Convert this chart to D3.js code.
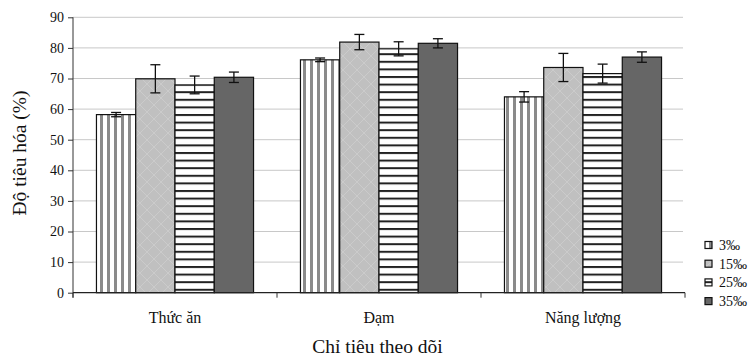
<!DOCTYPE html>
<html><head><meta charset="utf-8">
<script src="https://cdn.jsdelivr.net/npm/d3@7"></script>
<style>body{margin:0;background:#fff;}svg{display:block;font-family:"Liberation Serif","Times New Roman",serif;}</style>
</head><body>
<svg id="c" width="750" height="361"></svg>
<script>
const categories = ["Thức ăn", "Đạm", "Năng lượng"];
const seriesNames = ["3‰", "15‰", "25‰", "35‰"];
const values = [
  [58.2, 69.9, 67.9, 70.4],
  [76.1, 81.9, 79.7, 81.5],
  [64.0, 73.6, 71.6, 77.0]
];
const errors = [
  [0.7, 4.6, 2.9, 1.7],
  [0.6, 2.5, 2.3, 1.5],
  [1.7, 4.6, 3.1, 1.7]
];
const yTicks = [0,10,20,30,40,50,60,70,80,90];
const yTitle = "Độ tiêu hóa (%)";
const xTitle = "Chỉ tiêu theo dõi";

const svg = d3.select("#c");
const L = 73, R = 685, T = 17.3, B = 292.7;
const y = d3.scaleLinear().domain([0,90]).range([B,T]);
const x0 = d3.scaleBand().domain(categories).range([L,R]).paddingInner(0.23).paddingOuter(0.115);
const x1 = d3.scaleBand().domain(seriesNames).range([0,x0.bandwidth()]);

// patterns
const defs = svg.append("defs");
const pv = defs.append("pattern").attr("id","p0").attr("patternUnits","userSpaceOnUse").attr("width",7).attr("height",7);
pv.append("rect").attr("width",7).attr("height",7).attr("fill","#fff");
pv.append("rect").attr("x",2).attr("width",3).attr("height",7).attr("fill","#8a8a8a");
const pd = defs.append("pattern").attr("id","p1").attr("patternUnits","userSpaceOnUse").attr("width",14).attr("height",14);
pd.append("rect").attr("width",14).attr("height",14).attr("fill","#c0c0c0");
pd.append("path").attr("d","M0,7 L7,0 L14,7 L7,14 Z").attr("fill","none").attr("stroke","#cbcbcb").attr("stroke-width",1);
const ph = defs.append("pattern").attr("id","p2").attr("patternUnits","userSpaceOnUse").attr("width",7.6).attr("height",7.6);
ph.append("rect").attr("width",7.6).attr("height",7.6).attr("fill","#fff");
ph.append("rect").attr("y",0).attr("width",7.6).attr("height",2).attr("fill","#222");
const fills = ["url(#p0)","url(#p1)","url(#p2)","#666666"];

// gridlines
svg.append("g").selectAll("line").data(yTicks.filter(d=>d>0)).join("line")
  .attr("x1",L).attr("x2",R-2).attr("y1",d=>y(d)).attr("y2",d=>y(d))
  .attr("stroke","#c8c8c8").attr("stroke-width",1);

// bars
const g = svg.append("g");
categories.forEach((c,ci)=>{
  seriesNames.forEach((s,si)=>{
    const v = values[ci][si];
    g.append("rect").attr("x",x0(c)+x1(s)).attr("y",y(v))
      .attr("width",x1.bandwidth()).attr("height",y(0)-y(v))
      .attr("fill",fills[si]).attr("stroke","#111").attr("stroke-width",1.2);
  });
});
// error bars
categories.forEach((c,ci)=>{
  seriesNames.forEach((s,si)=>{
    const v = values[ci][si], e = errors[ci][si];
    const cx = x0(c)+x1(s)+x1.bandwidth()/2;
    const eg = g.append("g").attr("stroke","#111").attr("stroke-width",1.3);
    eg.append("line").attr("x1",cx).attr("x2",cx).attr("y1",y(v+e)).attr("y2",y(v-e));
    eg.append("line").attr("x1",cx-5).attr("x2",cx+5).attr("y1",y(v+e)).attr("y2",y(v+e));
    eg.append("line").attr("x1",cx-5).attr("x2",cx+5).attr("y1",y(v-e)).attr("y2",y(v-e));
  });
});

// y axis
const ya = svg.append("g").attr("transform",`translate(${L},0)`)
  .call(d3.axisLeft(y).tickValues(yTicks).tickSize(5).tickPadding(4));
ya.select(".domain").attr("stroke","#333").attr("d",`M-0,${B+5}V${T}`);
ya.selectAll(".tick line").attr("stroke","#333");
ya.selectAll("text").attr("font-size","14px").attr("fill","#111").attr("font-family","Liberation Serif, serif");

// x axis
svg.append("line").attr("x1",L).attr("x2",R).attr("y1",B).attr("y2",B).attr("stroke","#222").attr("stroke-width",1.2);
const bounds = [L, ...categories.map(c=>x0(c)+x0.bandwidth()+x0.step()*0.115)];
svg.append("g").selectAll("line").data(bounds).join("line")
  .attr("x1",d=>d).attr("x2",d=>d).attr("y1",B).attr("y2",B+5).attr("stroke","#333");
svg.append("g").selectAll("text").data(categories).join("text")
  .attr("x",d=>x0(d)+x0.bandwidth()/2).attr("y",323)
  .attr("text-anchor","middle").attr("font-size","16px").attr("fill","#111").text(d=>d);

// titles
svg.append("text").attr("x",377.5).attr("y",353).attr("text-anchor","middle")
  .attr("font-size","19.5px").attr("fill","#111").text(xTitle);
svg.append("text").attr("transform","translate(25.5,153) rotate(-90)").attr("text-anchor","middle")
  .attr("font-size","19.5px").attr("fill","#111").text(yTitle);

// legend
const lg = svg.append("g");
seriesNames.forEach((s,i)=>{
  const yy = 245 + i*18.7;
  lg.append("rect").attr("x",705).attr("y",yy-3.5).attr("width",7).attr("height",7)
    .attr("fill",fills[i]).attr("stroke","#111").attr("stroke-width",1.2);
  lg.append("text").attr("x",719).attr("y",yy+5).attr("font-size","14px").attr("fill","#111").text(s);
});
</script>
</body></html>
